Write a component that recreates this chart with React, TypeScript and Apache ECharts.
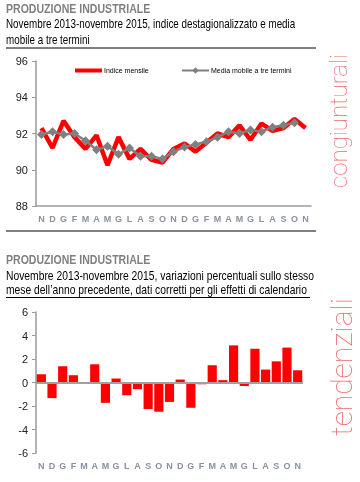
import React, { useEffect, useRef } from "react";
import * as echarts from "echarts";

const monthLabels = ["N","D","G","F","M","A","M","G","L","A","S","O","N","D","G","F","M","A","M","G","L","A","S","O","N"];
const indiceMensile = [92.3, 91.2, 92.7, 91.8, 91.15, 91.9, 90.25, 91.8, 90.6, 91.15, 90.55, 90.4, 91.15, 91.45, 91.0, 91.5, 92.0, 91.8, 92.45, 91.65, 92.55, 92.15, 92.3, 92.8, 92.3];
const mediaMobile = [91.95, 92.1, 91.95, 92.0, 91.6, 91.1, 91.3, 90.85, 91.2, 90.75, 90.75, 90.6, 91.0, 91.25, 91.4, 91.55, 91.8, 92.1, 92.0, 92.2, 92.1, 92.35, 92.45, 92.6, null];
const variazioni = [0.7, -1.33, 1.38, 0.62, 0.0, 1.55, -1.73, 0.34, -1.08, -0.57, -2.26, -2.49, -1.65, 0.25, -2.15, -0.15, 1.47, 0.2, 3.16, -0.3, 2.88, 1.1, 1.8, 2.97, 1.04];

const titleTop = "PRODUZIONE INDUSTRIALE";
const subTop = ["Novembre 2013-novembre 2015, indice destagionalizzato e media", "mobile a tre termini"];
const titleBottom = "PRODUZIONE INDUSTRIALE";
const subBottom = ["Novembre 2013-novembre 2015, variazioni percentuali sullo stesso", "mese dell\u2019anno precedente, dati corretti per gli effetti di calendario"];

const SANS = "'Liberation Sans', Arial, sans-serif";

export default function App() {
  const ref = useRef<HTMLDivElement>(null);
  useEffect(() => {
    const chart = echarts.init(ref.current!, null, { renderer: "svg" });
    const axisGray = "#9a9a9a";
    const xLabel = {
      fontSize: 9,
      fontWeight: "bold" as const,
      color: "#8a90a0",
      fontFamily: SANS,
      interval: 0,
      margin: 8,
    };
    const yLabel = { fontSize: 11, color: "#222", fontFamily: SANS, margin: 8 };
    const txt = (text: string, x: number, y: number, font: string, fill: string, sx: number) => ({
      type: "text",
      x,
      y,
      scaleX: sx,
      style: { text, font, fill, verticalAlign: "middle", align: "left" },
    });
    chart.setOption({
      animation: false,
      grid: [
        { left: 36, top: 61, width: 275, height: 145 },
        { left: 36, top: 312, width: 267, height: 141 },
      ],
      legend: [
        {
          left: 70,
          top: 62,
          data: [{ name: "Indice mensile", icon: "rect" }],
          itemWidth: 27,
          itemHeight: 4,
          textStyle: { fontSize: 7, fontFamily: SANS, color: "#000", padding: [0, 0, 0, -3] },
        },
        {
          left: 176,
          top: 62,
          data: ["Media mobile a tre termini"],
          itemWidth: 27,
          itemHeight: 8,
          textStyle: { fontSize: 7, fontFamily: SANS, color: "#000", padding: [0, 0, 0, -3] },
        },
      ],
      xAxis: [
        {
          gridIndex: 0,
          type: "category",
          data: monthLabels,
          boundaryGap: true,
          axisLine: { lineStyle: { color: axisGray, width: 1.5 } },
          axisTick: { show: false },
          axisLabel: xLabel,
        },
        {
          gridIndex: 1,
          type: "category",
          data: monthLabels,
          boundaryGap: true,
          axisLine: { show: false, onZero: false },
          axisTick: { show: false },
          axisLabel: xLabel,
        },
      ],
      yAxis: [
        {
          gridIndex: 0,
          type: "value",
          min: 88,
          max: 96,
          interval: 2,
          axisLine: { show: true, lineStyle: { color: axisGray, width: 1.5 } },
          axisTick: { show: true, length: 4, lineStyle: { color: axisGray } },
          splitLine: { show: false },
          axisLabel: yLabel,
        },
        {
          gridIndex: 1,
          type: "value",
          min: -6,
          max: 6,
          interval: 2,
          axisLine: { show: true, lineStyle: { color: axisGray, width: 1.5 } },
          axisTick: { show: true, length: 4, lineStyle: { color: axisGray } },
          splitLine: { show: false },
          axisLabel: yLabel,
        },
      ],
      series: [
        {
          name: "Indice mensile",
          type: "line",
          xAxisIndex: 0,
          yAxisIndex: 0,
          data: indiceMensile,
          symbol: "none",
          lineStyle: { color: "#ff0000", width: 4.5 },
          itemStyle: { color: "#ff0000" },
          z: 2,
        },
        {
          name: "Media mobile a tre termini",
          type: "line",
          xAxisIndex: 0,
          yAxisIndex: 0,
          data: mediaMobile,
          symbol: "diamond",
          symbolSize: 9,
          lineStyle: { color: "#808080", width: 2.5 },
          itemStyle: { color: "#808080" },
          z: 3,
        },
        {
          name: "Variazioni",
          type: "bar",
          xAxisIndex: 1,
          yAxisIndex: 1,
          data: variazioni,
          barCategoryGap: "14%",
          itemStyle: { color: "#ff0000" },
          markLine: {
            silent: true,
            symbol: "none",
            label: { show: false },
            lineStyle: { color: "#a0a0a0", width: 2, type: "solid" },
            data: [{ yAxis: 0 }],
          },
        },
      ],
      graphic: [
        txt(titleTop, 6, 9, `bold 12px ${SANS}`, "#7f7f7f", 0.88),
        txt(subTop[0], 6, 24, `12px ${SANS}`, "#000", 0.82),
        txt(subTop[1], 6, 40, `12px ${SANS}`, "#000", 0.82),
        { type: "line", shape: { x1: 6, y1: 48, x2: 316, y2: 48 }, style: { stroke: "#000", lineWidth: 1 } },
        { type: "line", shape: { x1: 6, y1: 231, x2: 316, y2: 231 }, style: { stroke: "#000", lineWidth: 1 } },
        txt(titleBottom, 6, 260, `bold 12px ${SANS}`, "#7f7f7f", 0.88),
        txt(subBottom[0], 6, 276, `12px ${SANS}`, "#000", 0.86),
        txt(subBottom[1], 6, 290, `12px ${SANS}`, "#000", 0.86),
        { type: "line", shape: { x1: 6, y1: 297.5, x2: 310, y2: 297.5 }, style: { stroke: "#000", lineWidth: 1 } },
        {
          type: "text",
          x: 339,
          y: 121,
          rotation: Math.PI / 2,
          style: { text: "congiunturali", font: `100 24px Roboto, ${SANS}`, fill: "#ec6a6a", align: "center", verticalAlign: "middle" },
        },
        {
          type: "text",
          x: 341,
          y: 367,
          rotation: Math.PI / 2,
          style: { text: "tendenziali", font: `100 30px Roboto, ${SANS}`, fill: "#ec6a6a", align: "center", verticalAlign: "middle" },
        },
      ],
    });
    return () => chart.dispose();
  }, []);
  return <div ref={ref} style={{ position: "fixed", left: 0, top: 0, width: 360, height: 482 }} />;
}
